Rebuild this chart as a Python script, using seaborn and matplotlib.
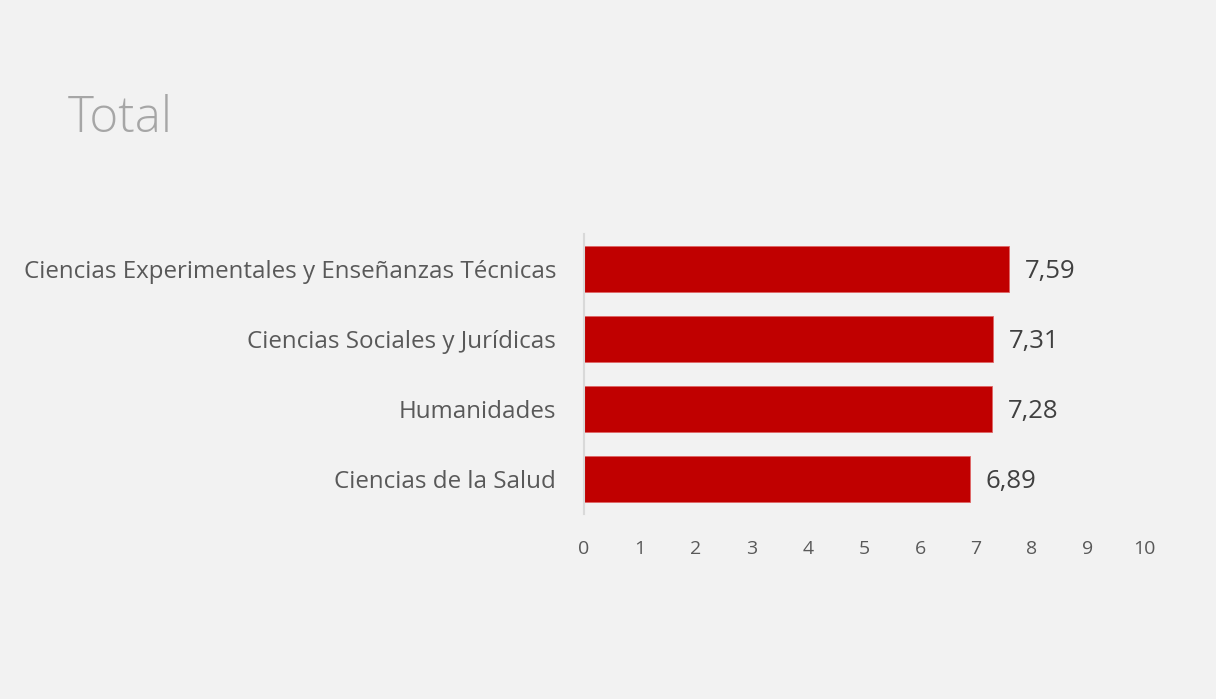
import matplotlib
matplotlib.use("Agg")
import matplotlib.pyplot as plt
import seaborn as sns
import pandas as pd

# datos
areas = ["Ciencias Experimentales y Enseñanzas Técnicas",
         "Ciencias Sociales y Jurídicas",
         "Humanidades",
         "Ciencias de la Salud"]
notas = [7.59, 7.31, 7.28, 6.89]
ticks_x = list(range(0, 11))

df = pd.DataFrame({"Area": areas, "Nota": notas})

sns.set_theme(style="white")
plt.rcParams["font.family"] = ["Open Sans", "DejaVu Sans"]

fondo = "#F2F2F2"
texto = "#595959"

fig = plt.figure(figsize=(12.16, 6.99), dpi=100, facecolor=fondo)
ax = fig.add_axes([0.4803, 0.2647, 0.4605, 0.4006])
ax.set_facecolor(fondo)

sns.barplot(data=df, x="Nota", y="Area", color="#C00000", width=0.66,
            saturation=1, edgecolor="#E06666", linewidth=0.6, ax=ax)

# etiquetas de valor con coma decimal
for i, v in enumerate(notas):
    ax.text(v + 0.28, i + 0.03, f"{v:.2f}".replace(".", ","), va="center",
            ha="left", fontsize=18.5, color="#404040")

ax.set_xlim(0, 10)
ax.set_xticks(ticks_x)
ax.set_xlabel("")
ax.set_ylabel("")
ax.tick_params(axis="x", length=0, labelsize=14, colors=texto, pad=19)
ax.tick_params(axis="y", length=0, labelsize=17.4, colors=texto, pad=20)

for s in ["top", "right", "bottom"]:
    ax.spines[s].set_visible(False)
ax.spines["left"].set_color("#D9D9D9")
ax.spines["left"].set_linewidth(1.5)

fig.text(0.056, 0.811, "Total", fontsize=35.5, color="#A6A6A6",
         fontweight="light", ha="left", va="baseline")

plt.savefig("out.png", dpi=100, facecolor=fondo)
plt.close()
